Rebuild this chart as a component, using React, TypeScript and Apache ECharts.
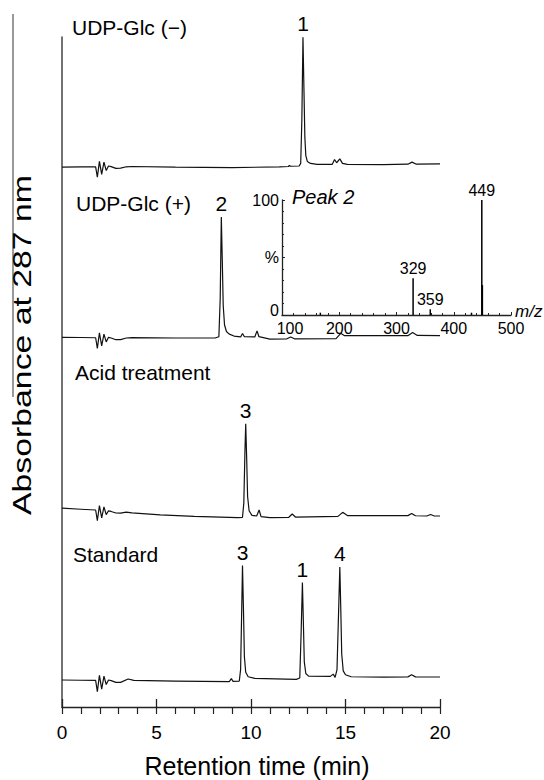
import React, { useEffect, useRef } from "react";
import * as echarts from "echarts";

const FONT = '"Liberation Sans", Arial, Helvetica, sans-serif';

// Retention-time axis
const xMin = 0;
const xMax = 20;
const xMajor = 5;
const xMinor = 1;

// Chromatograms: [retention time (min), absorbance (arb. units)]
const traceUdpMinus: [number, number][] = [
  [0, -0.8], [1.0, -0.7], [1.78, -0.6], [1.87, -8.5], [1.98, 3.5], [2.1, -6.5], [2.22, 3], [2.34, -3.5],
  [2.46, 0], [2.6, -0.5], [2.85, -1.8], [3.1, -1.6], [3.4, -0.6], [3.7, -0.4], [6, -0.9], [9, -1.3],
  [11.5, -0.6], [11.98, -0.4], [12.03, 0.4], [12.1, -0.2], [12.55, 0], [12.63, 2], [12.69, 35], [12.75, 99],
  [12.8, 60], [12.85, 22], [12.9, 8], [12.98, 3.5], [13.15, 2], [13.5, 1.3], [14.3, 1.3], [14.42, 5],
  [14.53, 2.5], [14.7, 5.5], [14.84, 2], [15.1, 1.2], [17, 1.1], [18.3, 1.4], [18.52, 3], [18.75, 1.4], [20, 1.6],
];
const traceUdpPlus: [number, number][] = [
  [0, 0.5], [1.0, 0.4], [1.78, 0.2], [1.87, -8], [1.98, 4], [2.1, -6], [2.22, 3], [2.34, -3], [2.46, 0.5],
  [2.6, 0], [2.85, -1.3], [3.1, -1.2], [3.4, 0], [3.7, 0.3], [6, 0], [8.1, 0], [8.3, 1], [8.37, 30],
  [8.43, 93], [8.48, 60], [8.53, 25], [8.6, 10], [8.7, 5], [8.85, 3], [9.1, 1.5], [9.45, 0.8], [9.55, 3.5],
  [9.65, 1], [10.2, 0.8], [10.32, 5.5], [10.42, 1], [11, -0.8], [11.9, -0.6], [12.1, 0.8], [12.3, -0.6],
  [14.5, -0.5], [14.75, 3.6], [14.95, 1.8], [18.3, 1.8], [18.55, 4.2], [18.8, 2], [20, 1.8],
];
const traceAcid: [number, number][] = [
  [0, 6], [1.0, 5.2], [1.78, 4.6], [1.87, -3.5], [1.98, 8], [2.1, -1.5], [2.22, 7], [2.34, 1], [2.46, 4],
  [2.6, 3.5], [2.85, 2.3], [3.1, 2.2], [3.4, 3], [3.7, 2.4], [5.2, 0.8], [7, -0.3], [9.3, -1.2], [9.55, -1],
  [9.62, 10], [9.68, 50], [9.72, 71], [9.77, 45], [9.82, 15], [9.9, 4], [10.05, 0.5], [10.3, 0], [10.43, 4.6],
  [10.53, -0.5], [11, -1.3], [12, -1], [12.18, 1.5], [12.35, -0.8], [14.6, -0.3], [14.85, 2.8], [15.1, 0.3],
  [18.3, 0.3], [18.5, 2], [18.7, 0.2], [19.3, 0], [19.5, 1.2], [19.7, 0], [20, 0],
];
const traceStandard: [number, number][] = [
  [0, 0], [1.0, -0.2], [1.78, -0.3], [1.87, -9], [1.98, 3.5], [2.1, -7], [2.22, 3], [2.34, -3.5], [2.46, 0],
  [2.6, -0.5], [2.85, -1.8], [3.1, -1.8], [3.5, 0.8], [3.8, -0.3], [6, -0.8], [8.85, -1.3], [8.96, 1],
  [9.05, -1], [9.38, -0.8], [9.45, 8], [9.51, 55], [9.55, 88], [9.6, 55], [9.65, 18], [9.72, 6], [9.85, 2.5],
  [10.2, 1.3], [12.4, 0.5], [12.58, 1.5], [12.65, 35], [12.72, 75], [12.77, 45], [12.82, 14], [12.9, 5],
  [13.05, 3], [14.2, 2.8], [14.35, 4.5], [14.45, 2], [14.55, 8], [14.63, 50], [14.7, 87], [14.75, 55],
  [14.8, 20], [14.88, 7], [15, 4], [15.3, 2.5], [17, 2.2], [18.3, 2.4], [18.5, 4], [18.7, 2.4], [20, 2.3],
];

const traces = [traceUdpMinus, traceUdpPlus, traceAcid, traceStandard];
const sampleNames = ["UDP-Glc (\u2212)", "UDP-Glc (+)", "Acid treatment", "Standard"];

// Peak numbers: [retention time, apex value, label]
const peaksUdpMinus: [number, number, string][] = [[12.75, 99, "1"]];
const peaksUdpPlus: [number, number, string][] = [[8.43, 93, "2"]];
const peaksAcid: [number, number, string][] = [[9.72, 71, "3"]];
const peaksStandard: [number, number, string][] = [[9.55, 88, "3"], [12.72, 75, "1"], [14.7, 87, "4"]];
const peakSets = [peaksUdpMinus, peaksUdpPlus, peaksAcid, peaksStandard];

// Inset mass spectrum of peak 2
const mzValues = [167, 329, 359, 431, 449, 450];
const mzIntensity = [2, 32, 5, 2, 100, 26];
const mzLabelled = [329, 359, 449];
const msYTickLabels: Record<number, string> = { 0: "{z|0}", 50: "%", 100: "100" };

// layout
const traceTops = [23, 195, 373, 537];
const plotLeft = 62;
const plotWidth = 378;

export default function App() {
  const ref = useRef<HTMLDivElement>(null);
  useEffect(() => {
    document.body.style.margin = "0";
    const chart = echarts.init(ref.current!, null, { renderer: "svg" });
    const axisColor = "#222";
    const grids: any[] = [
      { left: plotLeft, top: 37, width: plotWidth, height: 670 },
      ...traceTops.map((t) => ({ left: plotLeft, top: t, width: plotWidth, height: 169 })),
      { left: 282, top: 200, width: 229, height: 115 },
    ];
    const xAxes: any[] = [
      {
        gridIndex: 0, type: "value", position: "bottom", min: xMin, max: xMax, interval: xMajor,
        axisLine: { show: true, lineStyle: { color: axisColor, width: 1.3 } },
        axisTick: { show: true, inside: true, length: 8, lineStyle: { color: axisColor, width: 1.3 } },
        axisLabel: { fontSize: 19, margin: 16, color: "#000", fontFamily: FONT },
        splitLine: { show: false },
      },
      {
        gridIndex: 0, type: "value", position: "bottom", offset: 0, min: xMin, max: xMax, interval: xMinor,
        axisLine: { show: false },
        axisTick: { show: true, inside: false, length: 7, lineStyle: { color: axisColor, width: 1.2 } },
        axisLabel: { show: false },
        splitLine: { show: false },
      },
      ...traceTops.map((_, i) => ({ gridIndex: i + 1, type: "value", min: xMin, max: xMax, show: false })),
      {
        gridIndex: 5, type: "value", position: "bottom", min: 100, max: 500, interval: 100,
        axisLine: { show: true, lineStyle: { color: axisColor, width: 1.3 } },
        axisTick: { show: true, inside: true, length: 3, lineStyle: { color: axisColor } },
        minorTick: { show: true, splitNumber: 5, length: 2, lineStyle: { color: axisColor } },
        axisLabel: {
          fontSize: 16, margin: 5, color: "#000", fontFamily: FONT,
          formatter: (v: number) => (v === 100 ? "{m|100}" : String(v)),
          rich: { m: { fontSize: 16, color: "#000", fontFamily: FONT, padding: [0, 0, 0, 16] } },
        },
        splitLine: { show: false },
        minorSplitLine: { show: false },
      },
    ];
    const yAxes: any[] = [
      {
        gridIndex: 0, type: "value", min: 0, max: 1,
        axisLine: { show: true, lineStyle: { color: "#444", width: 1.5 } },
        axisTick: { show: false }, axisLabel: { show: false }, splitLine: { show: false },
      },
      ...traceTops.map((_, i) => ({ gridIndex: i + 1, type: "value", min: -20, max: 110, show: false })),
      {
        gridIndex: 5, type: "value", min: 0, max: 100, interval: 50,
        axisLine: { show: true, lineStyle: { color: axisColor, width: 1.3 } },
        axisTick: { show: true, inside: true, length: 3, lineStyle: { color: axisColor } },
        minorTick: { show: true, splitNumber: 5, length: 2, lineStyle: { color: axisColor } },
        axisLabel: {
          fontSize: 16, margin: 3, color: "#000", fontFamily: FONT,
          formatter: (v: number) => msYTickLabels[v] ?? "",
          rich: { z: { fontSize: 16, color: "#000", fontFamily: FONT, padding: [0, 0, 9, 0] } },
        },
        splitLine: { show: false },
        minorSplitLine: { show: false },
      },
    ];
    const series: any[] = [];
    traces.forEach((tr, i) => {
      series.push({
        type: "line", xAxisIndex: i + 2, yAxisIndex: i + 1, data: tr,
        symbol: "none", showSymbol: false, silent: true,
        lineStyle: { color: "#111", width: 1.2 },
      });
      series.push({
        type: "scatter", xAxisIndex: i + 2, yAxisIndex: i + 1, symbolSize: 0, silent: true,
        itemStyle: { opacity: 1, color: "#000" },
        data: peakSets[i].map(([t, v, l]) => ({ value: [t, v], name: l })),
        label: {
          show: true, position: "top", distance: 3, formatter: "{b}", opacity: 1,
          fontSize: 21, color: "#000", fontFamily: FONT,
        },
      });
    });
    series.push({
      type: "bar", xAxisIndex: 6, yAxisIndex: 5, barWidth: 1.5, silent: true,
      itemStyle: { color: "#000" },
      data: mzValues.map((mz, k) => ({
        value: [mz, mzIntensity[k]],
        label: { show: mzLabelled.includes(mz) },
      })),
      label: {
        position: "top", distance: 2, fontSize: 16, color: "#000", fontFamily: FONT,
        formatter: (p: any) => String(p.value[0]),
      },
    });

    const labelPos = [
      [72, 27], [76, 203], [75, 372], [73, 554],
    ];
    const graphic: any[] = [
      { type: "line", shape: { x1: 13, y1: 14, x2: 13, y2: 397 }, style: { stroke: "#555", lineWidth: 1.2 } },
      {
        type: "text", x: 22, y: 345, rotation: Math.PI / 2, scaleX: 1.3,
        style: {
          text: "Absorbance at 287 nm", fontSize: 26, fontFamily: FONT, fill: "#000",
          align: "center", verticalAlign: "middle",
        },
      },
      {
        type: "text", x: 257, y: 766,
        style: {
          text: "Retention time (min)", fontSize: 25, fontFamily: FONT, fill: "#000",
          align: "center", verticalAlign: "middle",
        },
      },
      ...sampleNames.map((n, i) => ({
        type: "text", x: labelPos[i][0], y: labelPos[i][1],
        style: { text: n, fontSize: 21, fontFamily: FONT, fill: "#000", align: "left", verticalAlign: "middle" },
      })),
      {
        type: "text", x: 292, y: 197,
        style: {
          text: "Peak 2", fontSize: 20, fontStyle: "italic", fontFamily: FONT, fill: "#000",
          align: "left", verticalAlign: "middle",
        },
      },
      {
        type: "text", x: 515, y: 311,
        style: {
          text: "m/z", fontSize: 17, fontStyle: "italic", fontFamily: FONT, fill: "#000",
          align: "left", verticalAlign: "middle",
        },
      },
    ];

    chart.setOption({
      animation: false,
      backgroundColor: "#fff",
      grid: grids,
      xAxis: xAxes,
      yAxis: yAxes,
      series,
      graphic,
    });
    return () => chart.dispose();
  }, []);
  return <div ref={ref} style={{ width: 544, height: 780 }} />;
}
